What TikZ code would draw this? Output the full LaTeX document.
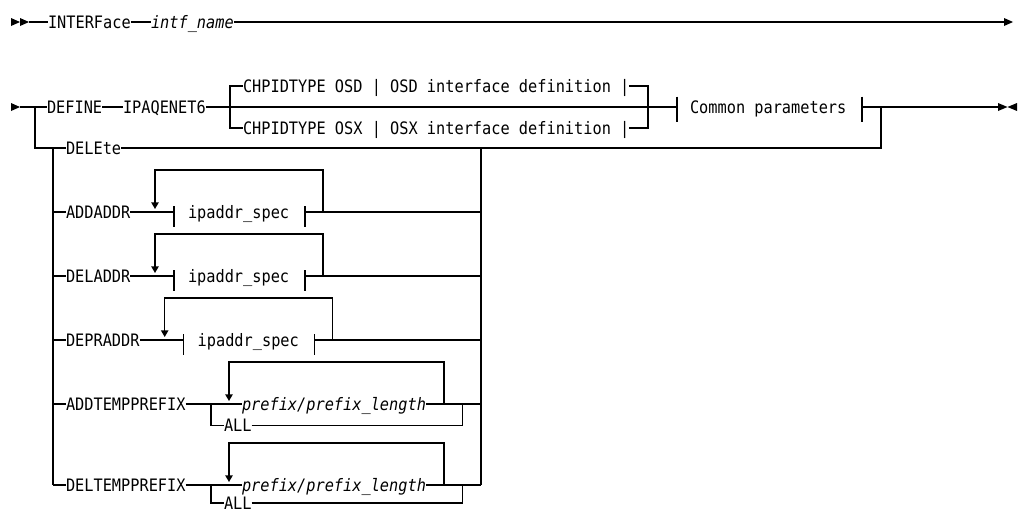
\documentclass[tikz,border=0pt]{standalone}
\usepackage{fontspec}
\newfontfamily\rrfont{DejaVu Sans Mono}[FakeStretch=0.891]
\usetikzlibrary{arrows.meta}
\tikzset{
  rr/.style={line width=1.3pt, line join=miter},
  kw/.style={inner sep=0pt, outer sep=0pt, anchor=west, text height=12.5pt, text depth=0pt,
    font=\rrfont\fontsize{17.15}{20}\selectfont},
  var/.style={kw, font=\rrfont\itshape\fontsize{17.15}{20}\selectfont},
  rep/.style={rr, -{Triangle[length=6.6pt,width=7.3pt]}},
}
\newcommand\rrIpRow[4]{%
  \node[kw] (#1) at (66,#3) {#2};
  \coordinate (#1l) at (53,#3);
  \coordinate (#1bl) at (#4,#3);
  \node[kw] (#1f) at (#4+14,#3) {ipaddr\_spec};
  \coordinate (#1br) at (#4+131,#3);
  \coordinate (#1lr) at (#4+149,#3);
  \coordinate (#1lt) at (#4+149,#3-42);
  \coordinate (#1ll) at (#4-19,#3-42);
  \coordinate (#1la) at (#4-19,#3-3);
  \coordinate (#1r) at (481,#3);
  \draw[rr] (#1l) -- (#1.west);
  \draw[rr] (#1.east) -- (#1bl);
  \draw[rr] ([yshift=6pt]#1bl) -- ([yshift=-15pt]#1bl);
  \draw[rr] ([yshift=6pt]#1br) -- ([yshift=-15pt]#1br);
  \draw[rr] (#1br) -- (#1r);
  \draw[rep] (#1lr) -- (#1lt) -- (#1ll) -- (#1la);
}
\newcommand\rrPfxRow[4]{%
  \node[kw] (#1) at (66,#3) {#2};
  \coordinate (#1l) at (53,#3);
  \coordinate (#1j) at (211,#3);
  \coordinate (#1jb) at (211,#4);
  \node[var] (#1p) at (242,#3) {prefix/prefix\_length};
  \node[kw] (#1a) at (224,#4) {ALL};
  \coordinate (#1ar) at (462.5,#4);
  \coordinate (#1aj) at (462.5,#3);
  \coordinate (#1lr) at (444,#3);
  \coordinate (#1lt) at (444,#3-42);
  \coordinate (#1ll) at (229,#3-42);
  \coordinate (#1la) at (229,#3-3);
  \coordinate (#1r) at (481,#3);
  \draw[rr] (#1l) -- (#1.west);
  \draw[rr] (#1.east) -- (#1p.west);
  \draw[rr] (#1j) -- (#1jb) -- (#1a.west);
  \draw[rr] (#1a.east) -- (#1ar) -- (#1aj);
  \draw[rr] (#1p.east) -- (#1r);
  \draw[rep] (#1lr) -- (#1lt) -- (#1ll) -- (#1la);
}
\begin{document}
\begin{tikzpicture}[x=1pt,y=-1pt]
\useasboundingbox (0,0) rectangle (1021,514);

% ---- row 1
\fill (11,18) -- (20,22) -- (11,26) -- cycle;
\fill (20,18) -- (29,22) -- (20,26) -- cycle;
\coordinate (r1s) at (29,22);
\node[kw] (interface) at (48,22) {INTERFace};
\node[var] (intf) at (151,22) {intf\_name};
\coordinate (r1e) at (1004,22);
\draw[rr] (r1s) -- (interface.west);
\draw[rr] (interface.east) -- (intf.west);
\draw[rr] (intf.east) -- (r1e);
\fill (1004,18) -- (1013,22) -- (1004,26) -- cycle;

% ---- row 2
\fill (11,103) -- (20,107) -- (11,111) -- cycle;
\coordinate (r2s) at (20,107);
\coordinate (jL) at (35,107);
\node[kw] (define) at (47,107) {DEFINE};
\node[kw] (ipaq) at (123,107) {IPAQENET6};
\coordinate (chT) at (230,86);
\coordinate (chB) at (230,128);
\node[kw] (osd) at (243,86) {CHPIDTYPE OSD | OSD interface definition |};
\node[kw] (osx) at (243,128) {CHPIDTYPE OSX | OSX interface definition |};
\coordinate (chRT) at (648,86);
\coordinate (chRB) at (648,128);
\coordinate (cpL) at (677,107);
\node[kw] (common) at (690,107) {Common parameters};
\coordinate (cpR) at (862,107);
\coordinate (jR) at (881,107);
\coordinate (r2e) at (998,107);
\draw[rr] (r2s) -- (define.west);
\draw[rr] (define.east) -- (ipaq.west);
\draw[rr] (ipaq.east) -- (cpL);
\draw[rr] (osd.west) -- (chT) -- (chB) -- (osx.west);
\draw[rr] (osd.east) -- (chRT) -- (chRB) -- (osx.east);
\draw[rr] ([yshift=10.5pt]cpL) -- ([yshift=-15pt]cpL);
\draw[rr] ([yshift=10.5pt]cpR) -- ([yshift=-15pt]cpR);
\draw[rr] (cpR) -- (r2e);
\fill (998,103) -- (1007.5,107) -- (998,111) -- cycle;
\fill (1017,103) -- (1007.5,107) -- (1017,111) -- cycle;

% ---- DELEte
\coordinate (jLb) at (35,148);
\node[kw] (delete) at (66,148) {DELEte};
\coordinate (jRb) at (881,148);
\coordinate (cR) at (481,148);
\coordinate (jI) at (53,148);
\draw[rr] (jL) -- (jLb) -- (delete.west);
\draw[rr] (delete.east) -- (jRb) -- (jR);

% ---- rows
\rrIpRow{addaddr}{ADDADDR}{212}{174}
\rrIpRow{deladdr}{DELADDR}{276}{174}
\rrIpRow{depraddr}{DEPRADDR}{340}{183.7}
\rrPfxRow{addtemp}{ADDTEMPPREFIX}{404}{425.7}
\rrPfxRow{deltemp}{DELTEMPPREFIX}{485}{503}

% ---- columns
\draw[rr] (jI) -- (deltempl);
\draw[rr] (cR) -- (deltempr);
\end{tikzpicture}
\end{document}
